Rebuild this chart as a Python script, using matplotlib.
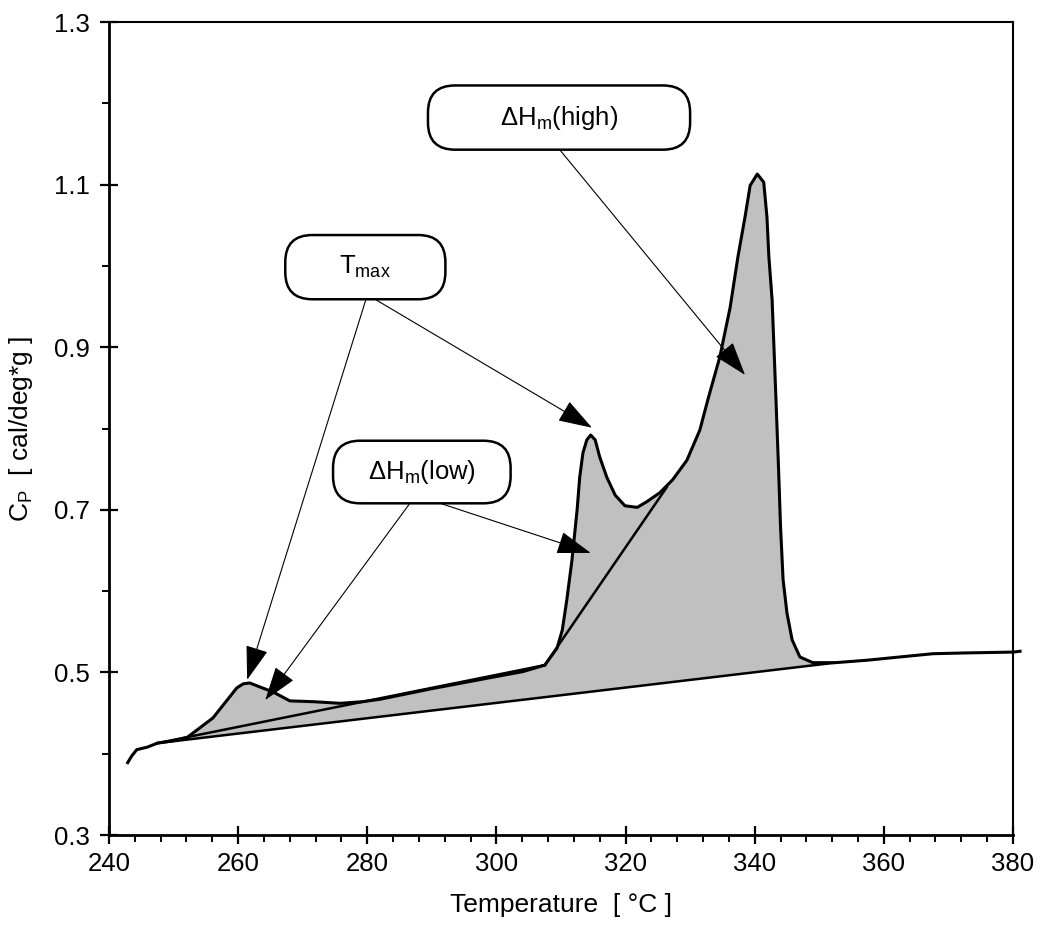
import numpy as np
import matplotlib
matplotlib.use("Agg")
import matplotlib.pyplot as plt
from matplotlib.patches import FancyBboxPatch
from matplotlib.ticker import MultipleLocator, FixedLocator

plt.rcParams["font.family"] = ["Liberation Sans", "DejaVu Sans"]
plt.rcParams["mathtext.fontset"] = "custom"
plt.rcParams["mathtext.rm"] = "Liberation Sans"
plt.rcParams["mathtext.it"] = "Liberation Sans:italic"

# DSC trace
temp = np.array([
    242.9, 243.5, 244.3, 245.9, 247.5, 250.0, 252.1, 254.1, 256.1, 258.3,
    259.8, 260.8, 261.8, 263.4, 265.4, 268.0, 271.6, 275.8, 279.3, 282.0,
    290.0, 298.0, 304.1, 307.5, 309.4, 310.2, 310.9, 311.7, 312.5, 312.9,
    313.4, 314.0, 314.6, 315.3, 316.0, 317.1, 318.4, 319.9, 321.8, 323.3,
    325.3, 327.3, 329.5, 331.5, 332.8, 334.6, 336.2, 337.4, 338.5, 339.3,
    340.4, 341.4, 341.9, 342.2, 342.7, 343.0, 343.3, 343.7, 344.0, 344.4,
    345.0, 345.8, 347.0, 349.0, 352.5, 357.4, 362.5, 367.6, 372.9, 380.0,
    381.1,
])
cp = np.array([
    0.389, 0.397, 0.405, 0.408, 0.413, 0.416, 0.420, 0.432, 0.444, 0.466,
    0.481, 0.486, 0.487, 0.482, 0.476, 0.465, 0.464, 0.462, 0.464, 0.467,
    0.480, 0.492, 0.501, 0.509, 0.530, 0.552, 0.589, 0.638, 0.700, 0.740,
    0.770, 0.786, 0.792, 0.786, 0.765, 0.740, 0.718, 0.705, 0.703, 0.710,
    0.721, 0.737, 0.761, 0.798, 0.837, 0.888, 0.949, 1.011, 1.060, 1.099,
    1.113, 1.103, 1.060, 1.011, 0.958, 0.897, 0.835, 0.750, 0.680, 0.614,
    0.573, 0.540, 0.519, 0.512, 0.512, 0.515, 0.519, 0.523, 0.524, 0.525,
    0.526,
])

# baselines (end points)
base_low_t = [247.5, 352.5]
base_low_cp = [0.413, 0.512]
base_peak1_t = [247.5, 307.5]
base_peak1_cp = [0.413, 0.509]
base_split_t = [307.5, 326.4]
base_split_cp = [0.509, 0.728]

y_major = [0.3, 0.5, 0.7, 0.9, 1.1, 1.3]

fig = plt.figure(figsize=(10.4, 9.38), dpi=100)
ax = fig.add_axes([0.1048, 0.1098, 0.974 - 0.1048, 0.9765 - 0.1098])

# shaded area between trace and the common baseline
mask = (temp >= base_low_t[0]) & (temp <= base_low_t[1])
base = np.interp(temp, base_low_t, base_low_cp)
ax.fill_between(temp[mask], cp[mask], base[mask], color="#c0c0c0", lw=0, zorder=1)

ax.plot(base_low_t, base_low_cp, color="black", lw=1.8, zorder=2)
ax.plot(base_peak1_t, base_peak1_cp, color="black", lw=1.8, zorder=2)
ax.plot(base_split_t, base_split_cp, color="black", lw=1.8, zorder=2)
ax.plot(temp, cp, color="black", lw=2.2, zorder=3, clip_on=False)

ax.set_xlim(240, 380)
ax.set_ylim(0.3, 1.3)
ax.xaxis.set_major_locator(MultipleLocator(20))
ax.xaxis.set_minor_locator(MultipleLocator(4))
ax.yaxis.set_major_locator(FixedLocator(y_major))
ax.yaxis.set_minor_locator(FixedLocator([0.4, 0.6, 0.8, 1.0, 1.2]))
ax.set_yticklabels([f"{v:.1f}" for v in y_major])
ax.tick_params(which="major", direction="inout", length=13, width=1.6, labelsize=18.5)
ax.tick_params(axis="x", which="major", pad=6)
ax.tick_params(axis="y", which="major", pad=7)
ax.tick_params(which="minor", direction="out", length=5, width=1.4)

for s in ("left", "bottom"):
    ax.spines[s].set_linewidth(2.0)
for s in ("top", "right"):
    ax.spines[s].set_linewidth(1.5)

ax.set_xlabel("Temperature  [ °C ]", fontsize=19, labelpad=12)
ax.set_ylabel(r"C$_\mathrm{P}$  [ cal/deg*g ]", fontsize=19, labelpad=14)

# label boxes: (x0, x1, y0, y1) in data units
px_x = 6.457
px_y = 813.0
boxes = [
    ("T$_\\mathrm{max}$", 267.3, 292.1, 0.959, 1.038),
    ("ΔH$_\\mathrm{m}$(low)", 274.7, 302.2, 0.708, 0.785),
    ("ΔH$_\\mathrm{m}$(high)", 289.4, 330.0, 1.143, 1.222),
]
for txt, x0, x1, y0, y1 in boxes:
    r = 4.2
    p = FancyBboxPatch((x0 + r, y0 + r * px_x / px_y), (x1 - x0) - 2 * r,
                       (y1 - y0) - 2 * r * px_x / px_y,
                       boxstyle=f"round,pad={r},rounding_size={r}",
                       mutation_aspect=px_x / px_y,
                       fc="white", ec="black", lw=1.8, zorder=5)
    ax.add_patch(p)
    ax.text((x0 + x1) / 2, (y0 + y1) / 2, txt, ha="center", va="center",
            fontsize=18.5, zorder=6)

# arrows: (start, tip)
arrows = [
    ((279.8, 0.959), (261.4, 0.491)),
    ((281.2, 0.959), (314.8, 0.801)),
    ((286.6, 0.708), (264.2, 0.466)),
    ((291.3, 0.708), (314.6, 0.647)),
    ((309.8, 1.143), (338.5, 0.866)),
]
for start, tip in arrows:
    ax.annotate("", xy=tip, xytext=start,
                arrowprops=dict(arrowstyle="-|>,head_length=0.9,head_width=0.3",
                                mutation_scale=24, lw=0.8, color="black",
                                shrinkA=0, shrinkB=0),
                zorder=4)

fig.savefig("out.png", dpi=100)
